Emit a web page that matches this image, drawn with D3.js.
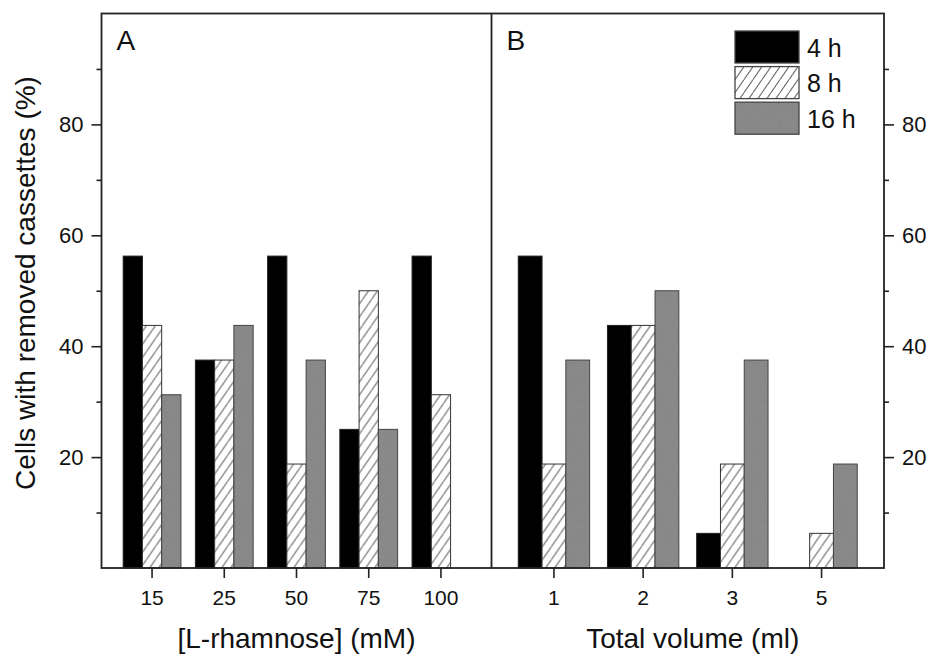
<!DOCTYPE html>
<html>
<head>
<meta charset="utf-8">
<script src="https://cdn.jsdelivr.net/npm/d3@7"></script>
<style>
  body { margin: 0; background: #fff; }
  text { font-family: "Liberation Sans", Arial, sans-serif; fill: #111; }
</style>
</head>
<body>
<div id="chart"></div>
<script>
// Data
const series = ["4 h", "8 h", "16 h"];
const rhamnoseCats = ["15", "25", "50", "75", "100"];
const rh4h = [56.25, 37.5, 56.25, 25, 56.25];
const rh8h = [43.75, 37.5, 18.75, 50, 31.25];
const rh16h = [31.25, 43.75, 37.5, 25, 0];
const volumeCats = ["1", "2", "3", "5"];
const vol4h = [56.25, 43.75, 6.25, 0];
const vol8h = [18.75, 43.75, 18.75, 6.25];
const vol16h = [37.5, 50, 37.5, 18.75];
const majorTicks = [20, 40, 60, 80];
const minorTicks = [10, 30, 50, 70, 90];

// Set dimensions and margins
const W = 931, H = 657;
const margin = {top: 13.5, right: 47, bottom: 89, left: 101.5},
      width = W - margin.left - margin.right,
      height = H - margin.top - margin.bottom;
const splitX = 390; // divider between panel A and B (inner coords)

const root = d3.select("#chart").append("svg")
    .attr("width", W)
    .attr("height", H);

// Patterns
const defs = root.append("defs");
const hatch = defs.append("pattern")
    .attr("id", "hatch")
    .attr("patternUnits", "userSpaceOnUse")
    .attr("width", 9).attr("height", 13);
hatch.append("rect").attr("width", 9).attr("height", 13).attr("fill", "#fff");
hatch.append("path")
    .attr("d", "M-1,14.4 L10,-1.4")
    .attr("stroke", "#333").attr("stroke-width", 1);

const noise = defs.append("filter").attr("id", "noise")
    .attr("x", 0).attr("y", 0).attr("width", "100%").attr("height", "100%");
noise.append("feTurbulence")
    .attr("type", "fractalNoise").attr("baseFrequency", 0.9)
    .attr("numOctaves", 2).attr("seed", 3);
noise.append("feColorMatrix").attr("type", "matrix")
    .attr("values", "0.33 0.33 0.33 0 0  0.33 0.33 0.33 0 0  0.33 0.33 0.33 0 0  0 0 0 0 1");

const grain = defs.append("pattern")
    .attr("id", "grain")
    .attr("patternUnits", "userSpaceOnUse")
    .attr("width", 60).attr("height", 60);
grain.append("rect").attr("width", 60).attr("height", 60).attr("fill", "#7a7a7a");
grain.append("rect").attr("width", 60).attr("height", 60)
    .attr("filter", "url(#noise)").attr("opacity", 0.22);

const fills = ["#000", "url(#hatch)", "url(#grain)"];
const strokes = ["#222", "#333", "#444"];

const svg = root.append("g")
    .attr("transform", `translate(${margin.left},${margin.top})`);

// Y scale
const y = d3.scaleLinear().domain([0, 100]).range([height, 0]);

// Panels
const panels = [
  {cats: rhamnoseCats, vals: [rh4h, rh8h, rh16h], x0: 0, x1: splitX,
   label: "A", title: "[L-rhamnose] (mM)", titleShift: 0},
  {cats: volumeCats, vals: [vol4h, vol8h, vol16h], x0: splitX, x1: width,
   label: "B", title: "Total volume (ml)", titleShift: 5}
];

panels.forEach(p => {
  const x = d3.scaleBand()
      .domain(p.cats)
      .range([p.x0, p.x1])
      .paddingInner(0.2)
      .paddingOuter(0.3);
  const xs = d3.scaleBand()
      .domain(series)
      .range([0, x.bandwidth()]);

  const rows = [];
  p.cats.forEach((c, i) => {
    series.forEach((s, j) => {
      rows.push({cat: c, s: s, j: j, v: p.vals[j][i]});
    });
  });

  svg.append("g").selectAll("rect")
    .data(rows.filter(d => d.v > 0))
    .enter().append("rect")
      .attr("x", d => x(d.cat) + xs(d.s))
      .attr("y", d => y(d.v))
      .attr("width", xs.bandwidth())
      .attr("height", d => height - y(d.v))
      .attr("fill", d => fills[d.j])
      .attr("stroke", d => strokes[d.j])
      .attr("stroke-width", 1);

  // bottom axis
  const ax = svg.append("g")
      .attr("transform", `translate(0,${height})`)
      .call(d3.axisBottom(x).tickSize(10).tickPadding(12));
  ax.select(".domain").remove();
  ax.selectAll("line").attr("stroke", "#222").attr("stroke-width", 1.6);
  ax.selectAll("text").attr("font-size", 21).attr("fill", "#111")
      .attr("font-family", "Liberation Sans, Arial, sans-serif");

  // axis title
  svg.append("text")
      .attr("x", (p.x0 + p.x1) / 2 + p.titleShift)
      .attr("y", height + 80)
      .attr("text-anchor", "middle")
      .attr("font-size", 28)
      .text(p.title);

  // panel label
  svg.append("text")
      .attr("x", p.x0 + 15)
      .attr("y", 36)
      .attr("font-size", 28)
      .text(p.label);
});

// Y axes (left and right), minor + major
function yAxes(axisFn, tx) {
  const gMinor = svg.append("g")
      .attr("transform", `translate(${tx},0)`)
      .call(axisFn(y).tickValues(minorTicks).tickSize(5).tickFormat(""));
  const gMajor = svg.append("g")
      .attr("transform", `translate(${tx},0)`)
      .call(axisFn(y).tickValues(majorTicks).tickSize(10).tickPadding(8));
  [gMinor, gMajor].forEach(g => {
    g.select(".domain").remove();
    g.selectAll("line").attr("stroke", "#222").attr("stroke-width", 1.6);
    g.selectAll("text").attr("font-size", 22).attr("fill", "#111")
        .attr("font-family", "Liberation Sans, Arial, sans-serif");
  });
}
yAxes(d3.axisLeft, 0);
yAxes(d3.axisRight, width);

// Frame and divider
svg.append("rect")
    .attr("width", width).attr("height", height)
    .attr("fill", "none").attr("stroke", "#222").attr("stroke-width", 1.8);
svg.append("line")
    .attr("x1", splitX).attr("x2", splitX)
    .attr("y1", 0).attr("y2", height)
    .attr("stroke", "#222").attr("stroke-width", 1.8);

// Y axis title
root.append("text")
    .attr("transform", "translate(35,283) rotate(-90)")
    .attr("text-anchor", "middle")
    .attr("font-size", 28)
    .text("Cells with removed cassettes (%)");

// Legend
const legend = root.append("g").attr("transform", "translate(735,31)");
series.forEach((s, j) => {
  const g = legend.append("g").attr("transform", `translate(0,${j * 35.6})`);
  g.append("rect")
      .attr("width", 64).attr("height", 32)
      .attr("fill", fills[j]).attr("stroke", "#444").attr("stroke-width", 1.3);
  g.append("text")
      .attr("x", 72).attr("y", 25.5)
      .attr("font-size", 25)
      .text(s);
});
</script>
</body>
</html>
